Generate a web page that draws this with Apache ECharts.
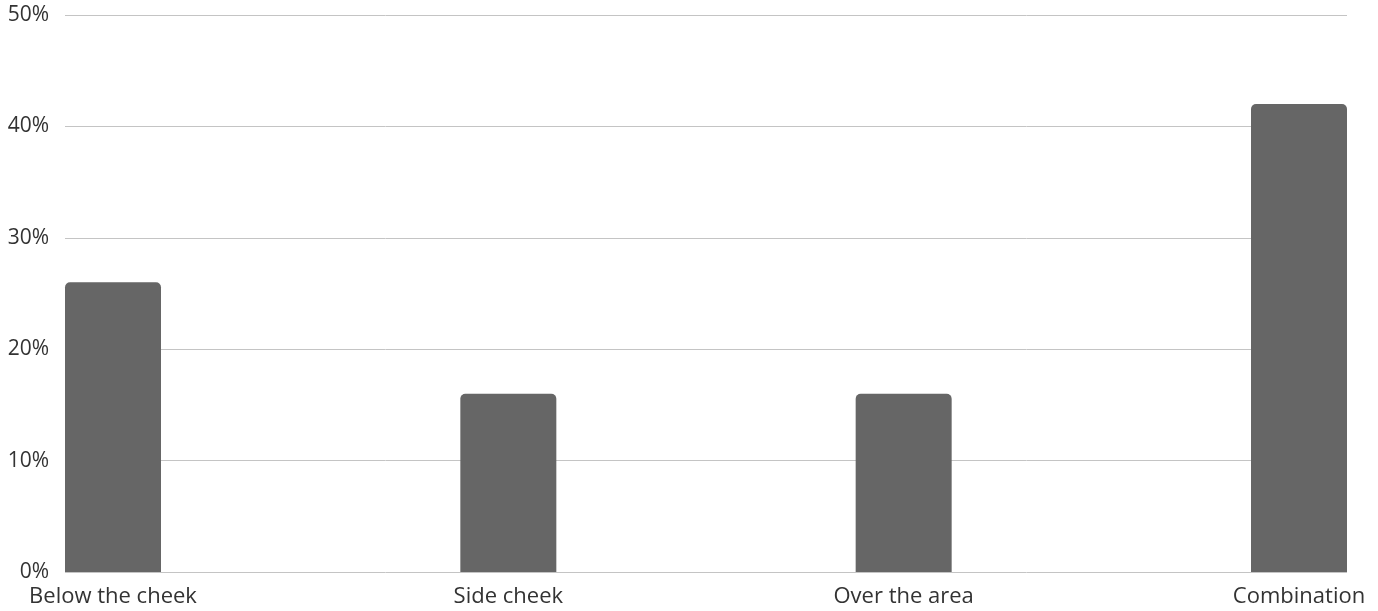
<!DOCTYPE html>
<html>
<head>
<meta charset="utf-8">
<script src="https://cdn.jsdelivr.net/npm/echarts@6/dist/echarts.min.js"></script>
<style>html,body{margin:0;padding:0;background:#fff}#c{width:1378px;height:611px}</style>
</head>
<body>
<div id="c"></div>
<script>
const categories = ['Below the cheek', 'Side cheek', 'Over the area', 'Combination'];
const values = [26, 16, 16, 42];
const yTicks = [0, 10, 20, 30, 40, 50];

const chart = echarts.init(document.getElementById('c'));
const font = '"Open Sans", Lato, sans-serif';
chart.setOption({
  animation: false,
  grid: [
    { left: 65, right: 31, top: 15, bottom: 39 },
    { left: 113, right: 79, top: 15, bottom: 39 }
  ],
  xAxis: [
    { gridIndex: 0, type: 'category', data: categories, show: false },
    {
      gridIndex: 1, type: 'category', data: categories, boundaryGap: false,
      axisLine: { show: false }, axisTick: { show: false },
      axisLabel: { color: '#333', fontSize: 22, fontFamily: font, margin: 14, interval: 0 }
    }
  ],
  yAxis: [
    {
      gridIndex: 0, type: 'value', min: yTicks[0], max: yTicks[yTicks.length - 1], interval: 10,
      axisLine: { show: false }, axisTick: { show: false },
      splitLine: { lineStyle: { color: '#c4c4c4', width: 1 } },
      axisLabel: { color: '#333', fontSize: 21, fontFamily: font, margin: 16, formatter: '{value}%', padding: [3, 0, 0, 0] }
    },
    {
      gridIndex: 1, type: 'value', min: yTicks[0], max: yTicks[yTicks.length - 1], interval: 10,
      show: false
    }
  ],
  series: [{
    type: 'bar', xAxisIndex: 1, yAxisIndex: 1,
    data: values, barWidth: 96,
    itemStyle: { color: '#666666', borderRadius: [5, 5, 0, 0] }
  }]
});
</script>
</body>
</html>
